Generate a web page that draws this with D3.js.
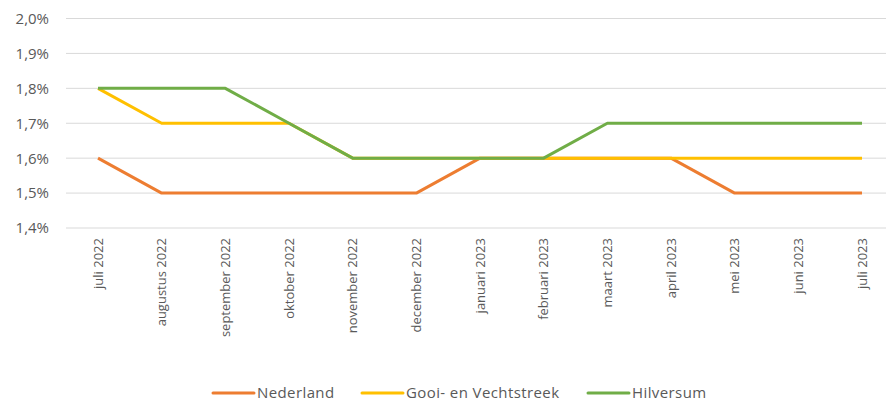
<!DOCTYPE html>
<html>
<head>
<meta charset="utf-8">
<script src="https://cdn.jsdelivr.net/npm/d3@7"></script>
<style>
  body { margin: 0; background: #fff; }
  text { font-family: "Open Sans", sans-serif; fill: #595959; }
</style>
</head>
<body>
<div id="chart"></div>
<script>
const months = ["juli 2022", "augustus 2022", "september 2022", "oktober 2022", "november 2022",
  "december 2022", "januari 2023", "februari 2023", "maart 2023", "april 2023", "mei 2023",
  "juni 2023", "juli 2023"];
const nederland = [1.6, 1.5, 1.5, 1.5, 1.5, 1.5, 1.6, 1.6, 1.6, 1.6, 1.5, 1.5, 1.5];
const gooi = [1.8, 1.7, 1.7, 1.7, 1.6, 1.6, 1.6, 1.6, 1.6, 1.6, 1.6, 1.6, 1.6];
const hilversum = [1.8, 1.8, 1.8, 1.7, 1.6, 1.6, 1.6, 1.6, 1.7, 1.7, 1.7, 1.7, 1.7];
const yTicks = [1.4, 1.5, 1.6, 1.7, 1.8, 1.9, 2.0];

const series = [
  { name: "Nederland", values: nederland, color: "#ED7D31" },
  { name: "Gooi- en Vechtstreek", values: gooi, color: "#FFC000" },
  { name: "Hilversum", values: hilversum, color: "#70AD47" }
];

const width = 886, height = 401;
const svg = d3.select("#chart").append("svg")
  .attr("width", width).attr("height", height);

const x = d3.scalePoint().domain(months).range([98, 862]);
const y = d3.scaleLinear().domain([1.4, 2.0]).range([228, 18.5]);

// gridlines
svg.append("g").selectAll("line").data(yTicks).enter().append("line")
  .attr("x1", 66).attr("x2", 894)
  .attr("y1", d => y(d)).attr("y2", d => y(d))
  .style("stroke", "#d9d9d9").style("stroke-width", 1);

// y labels
svg.append("g").selectAll("text").data(yTicks).enter().append("text")
  .attr("x", 49).attr("y", d => y(d))
  .attr("dy", "0.36em")
  .attr("text-anchor", "end")
  .style("font-size", "15px")
  .text(d => d3.format(".1f")(d).replace(".", ",") + "%");

// x labels
svg.append("g").selectAll("text").data(months).enter().append("text")
  .attr("transform", d => "translate(" + (x(d) + 4.5) + ",238) rotate(-90)")
  .attr("text-anchor", "end")
  .style("font-size", "13px")
  .text(d => d);

const line = d3.line()
  .x((d, i) => x(months[i]))
  .y(d => y(d));

svg.append("g").selectAll("path").data(series).enter().append("path")
  .attr("d", d => line(d.values))
  .style("fill", "none")
  .style("stroke", d => d.color)
  .style("stroke-width", 3)
  .style("stroke-linejoin", "round");

// legend
const legendX = [213, 362, 588];
const lg = svg.append("g").selectAll("g").data(series).enter().append("g")
  .attr("transform", (d, i) => "translate(" + legendX[i] + ",393)");
lg.append("line")
  .attr("x1", 0).attr("x2", 41)
  .style("stroke", d => d.color).style("stroke-width", 3)
  .style("stroke-linecap", "round");
lg.append("text")
  .attr("x", 44).attr("dy", "0.35em")
  .style("font-size", "15px")
  .style("letter-spacing", "0.4px")
  .text(d => d.name);
</script>
</body>
</html>
